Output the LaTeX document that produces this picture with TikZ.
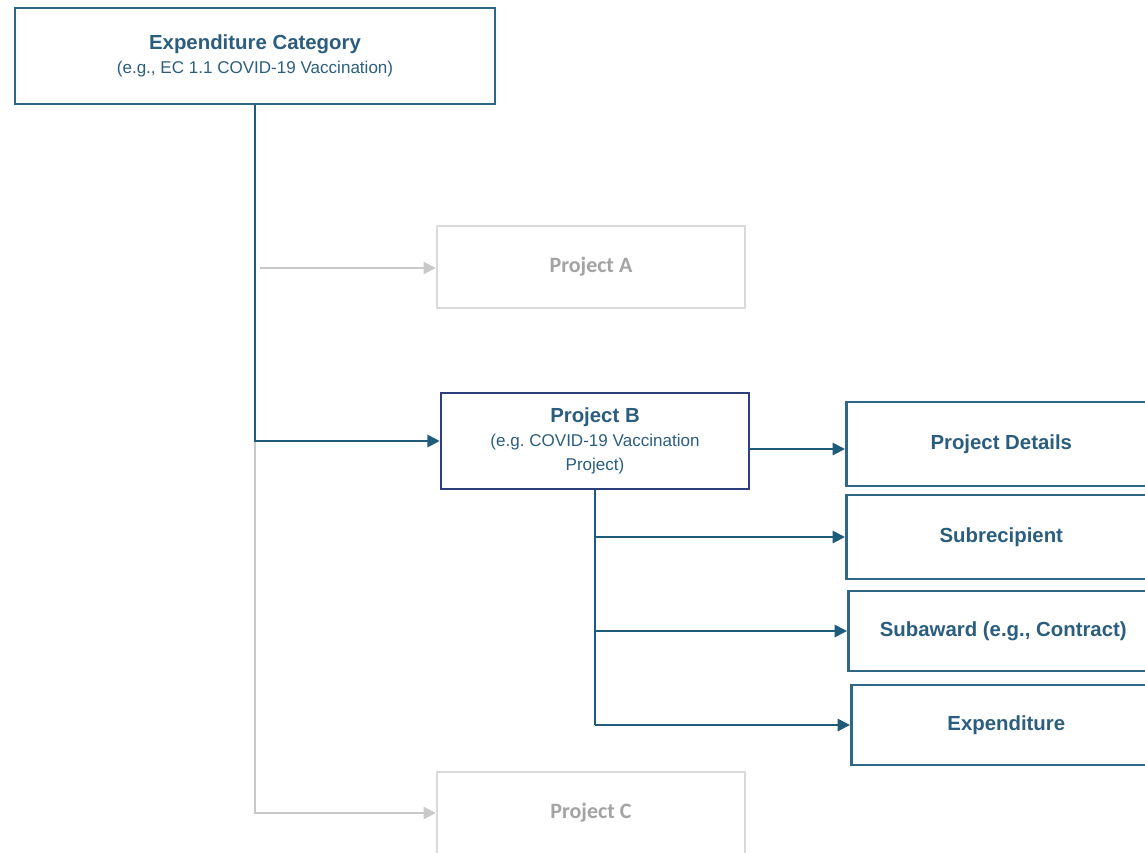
\documentclass[tikz,border=0pt]{standalone}
\usepackage{fontspec}
\setmainfont{Liberation Sans}
\newfontfamily\calfont{Carlito}
\usetikzlibrary{arrows.meta,positioning,calc}
\definecolor{teal}{HTML}{2F6786}
\definecolor{navy}{HTML}{2C3F7C}
\definecolor{tealtext}{HTML}{2B5E7E}
\definecolor{arrowteal}{HTML}{1F5C7C}
\definecolor{lightgray}{HTML}{DADADA}
\definecolor{linegray}{HTML}{C9C9C9}
\definecolor{graytext}{HTML}{A3A3A3}
\newcommand{\headtxt}[1]{{\bfseries\fontsize{11.6}{14}\selectfont #1}}
\newcommand{\subtxt}[1]{{\fontsize{9.7}{14}\selectfont #1}}
\tikzset{
  ecbox/.style={draw=teal,fill=white,line width=1.5pt,align=center,text=tealtext,inner sep=0pt},
  projbox/.style={draw=navy,fill=white,line width=1.5pt,align=center,text=tealtext,inner sep=0pt},
  greybox/.style={draw=lightgray,fill=white,line width=1.4pt,text=graytext,inner sep=0pt,
    font=\calfont\bfseries\fontsize{12.5}{14}\selectfont,minimum width=6.16cm,minimum height=1.64cm},
  itembox/.style={draw=teal,fill=white,line width=1.5pt,text=tealtext,inner sep=0pt,anchor=west,
    font=\bfseries\fontsize{11.6}{13}\selectfont,minimum width=6.2cm},
  darr/.style={-{Triangle[length=7pt,width=7pt]},draw=arrowteal,line width=1.1pt},
  dline/.style={draw=arrowteal,line width=1.1pt},
  garr/.style={-{Triangle[length=7pt,width=7pt]},draw=linegray,line width=1.1pt}
}
\begin{document}
\begin{tikzpicture}[x=0.02cm,y=-0.02cm]
\path[use as bounding box] (0,0) rectangle (1145,852);
% top level
\node[ecbox,minimum width=9.6cm,minimum height=1.92cm] (ec) at (255,56)
  {\headtxt{Expenditure Category}\\[1.5pt]\subtxt{(e.g., EC 1.1 COVID-19 Vaccination)}};
% projects
\node[greybox] (pa) at (591,267) {Project A};
\node[projbox,minimum width=6.16cm,minimum height=1.92cm] (pb) at (595,441)
  {\headtxt{Project B}\\[1.5pt]\subtxt{(e.g.\ COVID-19 Vaccination}\\[1.5pt]\subtxt{Project)}};
\node[greybox] (pc) at (591,813) {Project C};
% project B items
\node[itembox,minimum height=1.68cm] (pd) at (845,444) {Project Details};
\node[itembox,minimum height=1.68cm] (sr) at (845,537) {Subrecipient};
\node[itembox,minimum height=1.6cm] (sa) at (847,631) {Subaward (e.g., Contract)};
\node[itembox,minimum height=1.6cm] (ex) at (850,725) {Expenditure};
% connectors
\coordinate (ga) at (260,268);
\draw[garr] (ga) -- (ga -| pa.west);
\draw[garr] (ec.south |- pb.west) |- (pc.west);
\draw[darr] (ec.south) |- (pb.west);
\coordinate (bd) at (749,449);
\draw[darr] (bd) -- (bd -| pd.west);
\draw[dline] (pb.south) -- (pb.south |- ex.west);
\foreach \n in {sr,sa,ex}{
  \draw[darr] (pb.south |- \n.west) -- (\n.west);
}
\end{tikzpicture}
\end{document}
